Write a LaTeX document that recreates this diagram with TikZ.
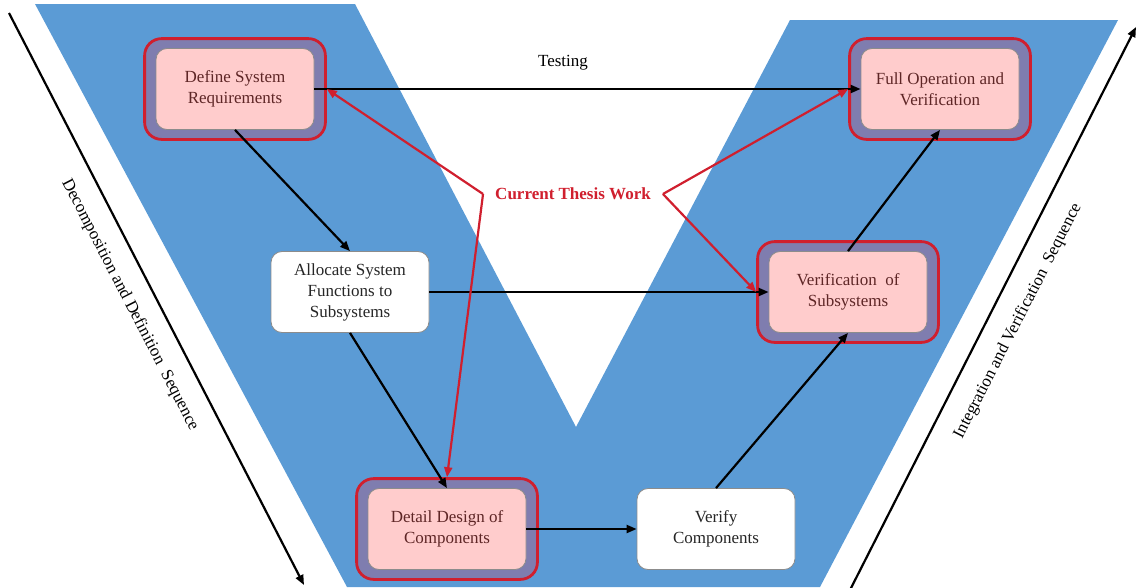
\documentclass[tikz,border=0pt]{standalone}
\usepackage{fontspec}
\setmainfont{Liberation Serif}
\usepackage{tikz}
\usetikzlibrary{arrows.meta, positioning, fit, backgrounds}
\usepackage{xcolor}
\definecolor{vBlue}{HTML}{5B9BD5}
\definecolor{vFrame}{HTML}{7F7DAF}
\definecolor{vRed}{HTML}{D01F2E}
\definecolor{vPink}{HTML}{FFCCCC}
\definecolor{vBrown}{HTML}{5E2626}
\definecolor{vInk}{HTML}{262626}
\definecolor{vEdge}{HTML}{8C8C8C}
\newcommand{\vfont}{\fontsize{17}{21}\selectfont}

\begin{document}
\begin{tikzpicture}[x=1pt, y=-1pt, >={Triangle[length=10pt, width=8pt]},
  box/.style={rounded corners=11pt, draw=vEdge, line width=0.8pt, minimum width=158pt,
              minimum height=81pt, align=center, font=\vfont, inner sep=2pt},
  hotbox/.style={box, fill=vPink, text=vBrown},
  coldbox/.style={box, fill=white, text=vInk},
  ring/.style={rounded corners=17pt, draw=vRed, line width=2.8pt, fill=vFrame,
               inner xsep=11pt, inner ysep=9.5pt},
  conn/.style={->, line width=2.2pt, black},
  hotarrow/.style={->, line width=2.2pt, vRed},
  seqarrow/.style={->, line width=2.2pt, black}]
  \useasboundingbox (0,0) rectangle (1138,587);
  % the boxes of the V
  \node[hotbox]  (req)     at (235,89)  {Define System\\Requirements};
  \node[hotbox]  (fullop)  at (940,89)  {Full Operation and\\Verification};
  \node[coldbox] (alloc)   at (350,292) {Allocate System\\Functions to\\Subsystems};
  \node[hotbox]  (versub)  at (848,292) {Verification\ \ of\\Subsystems};
  \node[hotbox]  (detail)  at (447,529) {Detail Design of\\Components};
  \node[coldbox] (vercomp) at (716,529) {Verify\\Components};
  \begin{scope}[on background layer]
    \fill[vBlue] (35,4) -- (355,4) -- (576,427) -- (790,20) -- (1118,20)
      -- (820,587) -- (347,587) -- cycle;
    \node[ring, fit=(req)]    (reqring)    {};
    \node[ring, fit=(fullop)] (fullopring) {};
    \node[ring, fit=(versub)] (versubring) {};
    \node[ring, fit=(detail)] (detailring) {};
  \end{scope}
  % sequence arrows at the sides
  \coordinate (decstart) at (9,13);
  \coordinate (decend)   at (304,585);
  \coordinate (intstart) at (850,590);
  \coordinate (intend)   at (1136,27);
  \draw[seqarrow] (decstart) -- (decend);
  \draw[seqarrow] (intstart) -- (intend);
  \node[font=\vfont, rotate=-62.7] (declbl) at (130,305) {Decomposition and Definition\ \ Sequence};
  \node[font=\vfont, rotate=62.9]  (intlbl) at (1018,321) {Integration and Verification\ \ Sequence};
  % flow between the boxes
  \node[font=\vfont] (testlbl) at (563,63) {Testing};
  \draw[conn] (req.south) -- (alloc.north);
  \draw[conn] (req.east) -- (fullop.west);
  \draw[conn] (alloc.east) -- (versub.west);
  \draw[conn] (alloc.south) -- (detail.north);
  \draw[conn] (detail.east) -- (vercomp.west);
  \draw[conn] (vercomp.north) -- (versub.south);
  \draw[conn] (versub.north) -- (fullop.south);
  % what the thesis covers
  \node[font=\vfont\bfseries, text=vRed, inner xsep=12pt] (thesis) at (573,194) {Current Thesis Work};
  \draw[hotarrow] (thesis.west) -- (reqring.east);
  \draw[hotarrow] (thesis.west) -- (detailring.north);
  \draw[hotarrow] (thesis.east) -- (fullopring.west);
  \draw[hotarrow] (thesis.east) -- (versubring.west);
\end{tikzpicture}
\end{document}
